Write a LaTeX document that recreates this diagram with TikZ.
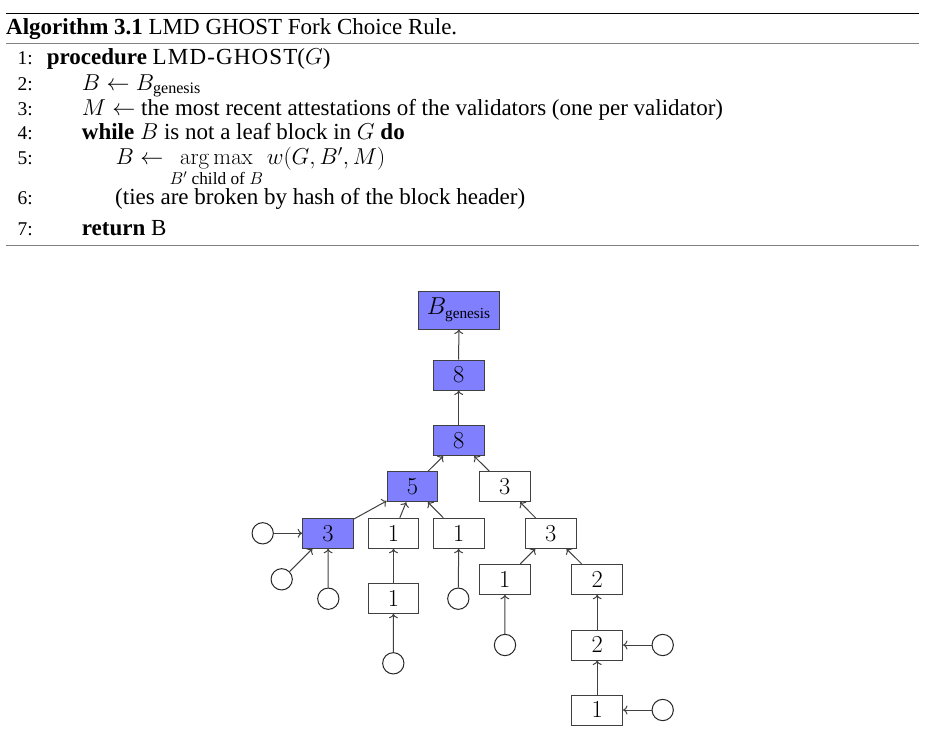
\RequirePackage{fix-cm}
\documentclass[tikz,border=0pt]{standalone}
\usepackage{amsmath}
\usepackage[no-math]{fontspec}
\setmainfont{Liberation Serif}
\usetikzlibrary{arrows.meta}
\newcommand\capfont{\fontsize{23pt}{27pt}\selectfont}
\newcommand\bodyfont{\fontsize{23pt}{25pt}\selectfont}
\newcommand\numfont{\fontsize{19.5pt}{21pt}\selectfont}
\newcommand\treefont{\fontsize{24.4pt}{29pt}\selectfont}
\newcommand\subfont{\fontsize{15.3pt}{16pt}\selectfont}
\newcommand\argsubfont{\fontsize{17.3pt}{18pt}\selectfont}
\tikzset{
  txt/.style={inner sep=0pt, anchor=base west, font=\bodyfont},
  lnum/.style={inner sep=0pt, anchor=base east, font=\numfont},
  blk/.style={draw=black!75, line width=1pt, minimum width=50.7pt, minimum height=30pt, inner sep=0pt, font=\treefont},
  chosen/.style={blk, fill=blue!50},
  plain/.style={blk, fill=white},
  vote/.style={circle, draw=black!85, line width=1pt, minimum size=21.3pt, inner sep=0pt},
  edge/.style={draw=black!75, line width=1pt, -{To[length=4.5pt,width=9pt]}},
  rulea/.style={line width=1.6pt, black},
  ruleb/.style={line width=1.6pt, black!50}
}
\begin{document}
\begin{tikzpicture}[x=1pt,y=-1pt]
\useasboundingbox (0,0) rectangle (930,744);
% rules
\coordinate (ra1) at (6,13.3); \coordinate (ra2) at (919,13.3);
\coordinate (rb1) at (6,43.6); \coordinate (rb2) at (919,43.6);
\coordinate (rc1) at (6,245.3); \coordinate (rc2) at (919,245.3);
\draw[rulea] (ra1) -- (ra2);
\draw[ruleb] (rb1) -- (rb2);
\draw[ruleb] (rc1) -- (rc2);
% caption
\node[txt, font=\capfont] (cap) at (6,34.3) {\textbf{Algorithm 3.1} LMD GHOST Fork Choice Rule.};
% line numbers
\node[lnum] (l1) at (33,64.5) {1:};
\node[lnum] (l2) at (33,90) {2:};
\node[lnum] (l3) at (33,115) {3:};
\node[lnum] (l4) at (33,139.5) {4:};
\node[lnum] (l5) at (33,164.5) {5:};
\node[lnum] (l6) at (33,204.5) {6:};
\node[lnum] (l7) at (33,235) {7:};
% lines
\node[txt] (t1) at (46.7,64.5) {\textbf{procedure} {\addfontfeatures{LetterSpace=5}LMD-GHOST}($G$)};
\node[txt] (t2) at (81.7,90) {$B \leftarrow B_{\text{genesis}}$};
\node[txt] (t3) at (81.7,115) {$M \leftarrow$ the most recent attestations of the validators (one per validator)};
\node[txt] (t4) at (81.7,139.5) {\textbf{while} $B$ is not a leaf block in $G$ \textbf{do}};
\node[txt] (t5) at (115.5,164.5) {$B \leftarrow \mathop{\arg\max}\limits_{\text{\argsubfont\raisebox{-1pt}[0pt][0pt]{$B'$ child of $B$}}} w(G,B',M)$};
\node[txt] (t6) at (115,204.5) {(ties are broken by hash of the block header)};
\node[txt] (t7) at (81.7,235) {\textbf{return} B};
% tree blocks
\node[chosen, minimum width=81pt, minimum height=38pt] (gen) at (458.8,310) {$B_{\text{\subfont genesis}}$};
\node[chosen] (n8a) at (458.7,375) {$8$};
\node[chosen] (n8b) at (458.7,440.7) {$8$};
\node[chosen] (n5) at (412.5,486.7) {$5$};
\node[plain] (n3w) at (504.8,486.7) {$3$};
\node[chosen] (n3b) at (328,533.3) {$3$};
\node[plain] (n1a) at (393.5,533.3) {$1$};
\node[plain] (n1b) at (458.7,533.3) {$1$};
\node[plain] (n3x) at (550.8,533.3) {$3$};
\node[plain] (n1c) at (393.5,598.3) {$1$};
\node[plain] (n1d) at (504.8,579.3) {$1$};
\node[plain] (n2a) at (597.2,579.3) {$2$};
\node[plain] (n2b) at (597.2,645) {$2$};
\node[plain] (n1e) at (597.2,710) {$1$};
% votes
\node[vote] (c1) at (262.7,533.3) {};
\node[vote] (c2) at (281.7,579.3) {};
\node[vote] (c3) at (328.3,598.7) {};
\node[vote] (c4) at (393.3,663.3) {};
\node[vote] (c5) at (458.3,598.7) {};
\node[vote] (c6) at (505,645) {};
\node[vote] (c7) at (662.7,645) {};
\node[vote] (c8) at (662.7,710) {};
% edges
\draw[edge] (n8a) -- (gen);
\draw[edge] (n8b) -- (n8a);
\draw[edge] (n5) -- (n8b);
\draw[edge] (n3w) -- (n8b);
\draw[edge] (n3b) -- (n5);
\draw[edge] (n1a) -- (n5);
\draw[edge] (n1b) -- (n5);
\draw[edge] (n3x) -- (n3w);
\draw[edge] (c1) -- (n3b);
\draw[edge] (c2) -- (n3b);
\draw[edge] (c3) -- (n3b);
\draw[edge] (n1c) -- (n1a);
\draw[edge] (c4) -- (n1c);
\draw[edge] (c5) -- (n1b);
\draw[edge] (n1d) -- (n3x);
\draw[edge] (n2a) -- (n3x);
\draw[edge] (c6) -- (n1d);
\draw[edge] (n2b) -- (n2a);
\draw[edge] (c7) -- (n2b);
\draw[edge] (n1e) -- (n2b);
\draw[edge] (c8) -- (n1e);
\end{tikzpicture}
\end{document}
